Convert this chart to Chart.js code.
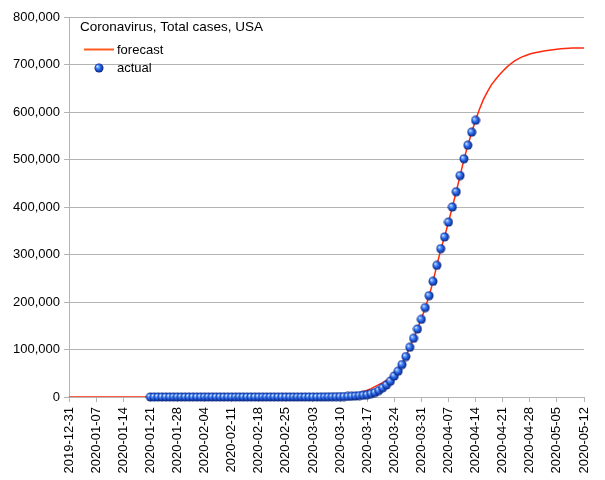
<!DOCTYPE html>
<html>
<head>
<meta charset="utf-8">
<script src="https://cdn.jsdelivr.net/npm/chart.js@4/dist/chart.umd.min.js"></script>
<style>
  body { margin: 0; background: #fff; }
  #wrap { width: 605px; height: 480px; }
</style>
</head>
<body>
<div id="wrap"><canvas id="chart" width="605" height="480"></canvas></div>
<script>
// days counted from 2019-12-31 (day 0)
const tickLabels = [
  '2019-12-31', '2020-01-07', '2020-01-14', '2020-01-21', '2020-01-28',
  '2020-02-04', '2020-02-11', '2020-02-18', '2020-02-25', '2020-03-03',
  '2020-03-10', '2020-03-17', '2020-03-24', '2020-03-31', '2020-04-07',
  '2020-04-14', '2020-04-21', '2020-04-28', '2020-05-05', '2020-05-12',
];

// actual cases, daily from 2020-01-21 (day 21)
const actualStart = 21;
const actualCases = [
  1, 1, 1, 2, 2, 5, 5, 5, 5, 6, 7,
  8, 11, 11, 11, 12, 12, 12, 12, 12, 13, 13, 14, 15, 15, 15,
  15, 15, 15, 15, 35, 35, 35, 53, 53, 59, 60, 62, 62, 62,
  69, 89, 103, 125, 159, 233, 338, 433, 554, 754,
  1025, 1312, 1663, 2174, 2951, 3774, 4661, 7087, 9415, 13677,
  19383, 25489, 33404, 44183, 54453, 68334, 85228, 104686, 123578, 143055,
  163539,
  188172, 213372, 243453, 277205, 312237, 337072, 368196, 399929, 432132,
  466299, 501560, 530006, 557571, 582594,
];

// forecast, zero until March, then daily from 2020-03-01 (day 61)
const forecastStart = 61;
const forecastCases = [
  100, 150, 220, 320, 450, 630, 880, 1200, 1650, 2250,
  3000, 4000, 5300, 6900, 8900, 11300, 14200, 17700, 21900, 26000,
  30000, 35000, 41000, 48000, 58000, 70500, 86000, 104000, 123000, 143000,
  164000, 188000, 213000, 243000, 277000, 310000, 338000, 368000, 400000, 432000,
  466000, 500000, 530000, 557000, 583000, 606000, 626000, 642000, 656000, 667000,
  677000, 686000, 694000, 701000, 707000, 712000, 716000, 719000, 722000, 724000,
  726000, 727500, 729000, 730000, 731000, 732000, 733000, 733500, 734000, 734500,
  735000, 735000, 735000,
];

const seriesNames = ['forecast', 'actual'];
const chartTitle = 'Coronavirus, Total cases, USA';

function makeSphere(r) {
  const c = document.createElement('canvas');
  const s = Math.ceil(r * 2) + 1;
  c.width = s;
  c.height = s;
  const ctx = c.getContext('2d');
  const cx = s / 2, cy = s / 2;
  const g = ctx.createRadialGradient(cx - r * 0.4, cy - r * 0.4, r * 0.05, cx, cy, r);
  g.addColorStop(0, '#f2f7ff');
  g.addColorStop(0.22, '#76aaff');
  g.addColorStop(0.55, '#2563e8');
  g.addColorStop(1, '#0a2276');
  ctx.fillStyle = g;
  ctx.beginPath();
  ctx.arc(cx, cy, r, 0, Math.PI * 2);
  ctx.fill();
  return c;
}

const sphere = makeSphere(4.5);

const forecastData = [{ x: 0, y: 0 }].concat(
  forecastCases.map((v, i) => ({ x: forecastStart + i, y: v }))
);
const actualData = actualCases.map((v, i) => ({ x: actualStart + i, y: v }));

const legendPlugin = {
  id: 'insideLegend',
  afterDraw(chart) {
    const ctx = chart.ctx;
    ctx.save();
    ctx.fillStyle = '#000';
    ctx.textBaseline = 'alphabetic';
    ctx.font = '13.5px "Liberation Sans", Arial, sans-serif';
    ctx.fillText(chartTitle, 80, 31);
    ctx.font = '13px "Liberation Sans", Arial, sans-serif';
    ctx.strokeStyle = '#ff5a1e';
    ctx.lineWidth = 2;
    ctx.beginPath();
    ctx.moveTo(84, 49.5);
    ctx.lineTo(114, 49.5);
    ctx.stroke();
    ctx.fillText(seriesNames[0], 117, 54);
    ctx.drawImage(sphere, 99 - sphere.width / 2, 68 - sphere.height / 2);
    ctx.fillText(seriesNames[1], 117, 72);
    ctx.restore();
  }
};

new Chart(document.getElementById('chart'), {
  type: 'line',
  data: {
    datasets: [
      {
        label: seriesNames[1],
        data: actualData,
        showLine: false,
        pointStyle: sphere,
        pointRadius: 4.5,
        clip: false,
        order: 0,
      },
      {
        label: seriesNames[0],
        data: forecastData,
        borderColor: '#ff2a0e',
        borderWidth: 1.5,
        pointRadius: 0,
        tension: 0,
        fill: false,
        order: 1,
      },
    ]
  },
  options: {
    responsive: false,
    animation: false,
    events: [],
    layout: { padding: { left: 0, right: 21, top: 17, bottom: 0 } },
    plugins: {
      legend: { display: false },
      tooltip: { enabled: false },
    },
    scales: {
      x: {
        type: 'linear',
        min: 0,
        max: 133,
        afterFit(scale) { scale.height = 83; },
        afterBuildTicks(scale) {
          scale.ticks = tickLabels.map((t, i) => ({ value: i * 7 }));
        },
        ticks: {
          autoSkip: false,
          maxRotation: 90,
          minRotation: 90,
          padding: 5,
          color: '#000',
          font: { family: '"Liberation Sans", Arial, sans-serif', size: 13 },
          callback: (v) => tickLabels[Math.round(v / 7)],
        },
        grid: {
          drawOnChartArea: false,
          drawTicks: true,
          tickLength: 5,
          color: '#b3b3b3',
        },
        border: { display: true, color: '#b3b3b3' },
      },
      y: {
        min: 0,
        max: 800000,
        afterFit(scale) { scale.width = 69; },
        ticks: {
          stepSize: 100000,
          padding: 4,
          color: '#000',
          font: { family: '"Liberation Sans", Arial, sans-serif', size: 13 },
          callback: (v) => v.toLocaleString('en-US'),
        },
        grid: {
          color: '#b3b3b3',
          tickLength: 5,
        },
        border: { display: true, color: '#b3b3b3' },
      },
    },
  },
  plugins: [legendPlugin],
});
</script>
</body>
</html>
